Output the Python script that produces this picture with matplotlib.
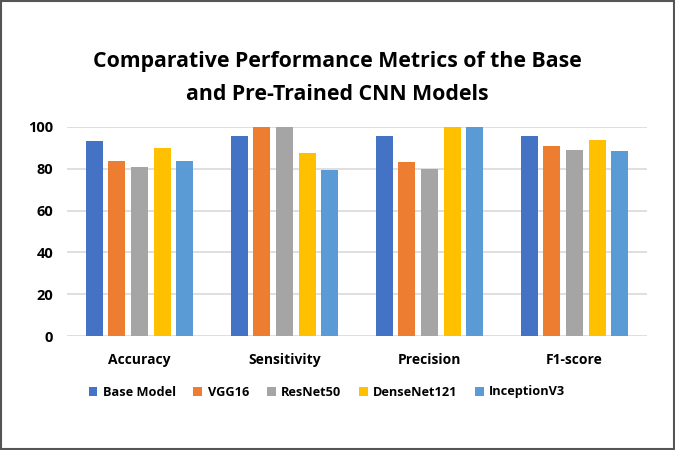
import matplotlib
matplotlib.use("Agg")
import matplotlib.pyplot as plt
import numpy as np
from matplotlib.patches import Rectangle

plt.rcParams['font.family'] = ['Open Sans', 'DejaVu Sans']

categories = ["Accuracy", "Sensitivity", "Precision", "F1-score"]
models = ["Base Model", "VGG16", "ResNet50", "DenseNet121", "InceptionV3"]
base_model = [93.3, 95.5, 95.5, 95.5]
vgg16 = [83.8, 100, 83.1, 90.8]
resnet50 = [80.9, 100, 80.1, 88.9]
densenet121 = [90.1, 87.6, 100, 93.6]
inceptionv3 = [83.8, 79.6, 100, 88.5]
yticks = [0, 20, 40, 60, 80, 100]

series = [base_model, vgg16, resnet50, densenet121, inceptionv3]
colors = ["#4472C4", "#ED7D31", "#A5A5A5", "#FFC000", "#5B9BD5"]

fig = plt.figure(figsize=(6.75, 4.5), dpi=100)
ax = fig.add_axes([67/675, 1-336/450, 580/675, 209/450])

x = np.arange(len(categories))
slot = 22.5/144
bw = 17/144
for i, (vals, c) in enumerate(zip(series, colors)):
    ax.bar(x + (i-2)*slot, vals, width=bw, color=c, label=models[i], zorder=3)

ax.set_xlim(-0.5, 3.5)
ax.set_ylim(0, 100)
ax.set_yticks(yticks)
ax.set_yticklabels([str(t) for t in yticks], fontsize=10.5, fontweight='bold')
ax.set_xticks(x)
ax.set_xticklabels(categories, fontsize=10, fontweight='bold')
ax.tick_params(axis='both', length=0)
ax.tick_params(axis='x', pad=12)
ax.tick_params(axis='y', pad=10)
ax.yaxis.grid(True, color='#D9D9D9', linewidth=1.2, zorder=0)
for s in ax.spines.values():
    s.set_visible(False)

fig.text(0.5, 1-62/450, "Comparative Performance Metrics of the Base", ha='center', va='center',
         fontsize=15.3, fontweight='bold')
fig.text(0.5, 1-94/450, "and Pre-Trained CNN Models", ha='center', va='center',
         fontsize=15.3, fontweight='bold')

leg = fig.legend(loc='center', ncol=5, frameon=False,
                 prop={'weight': 'bold', 'size': 9.2}, handlelength=0.7, handleheight=0.7,
                 handletextpad=0.4, columnspacing=1.4)
leg.set_bbox_to_anchor((327/675, 1-392/450), transform=fig.transFigure)

fig.patches.append(Rectangle((0.002, 0.003), 0.996, 0.994, transform=fig.transFigure,
                             fill=False, edgecolor='#555555', linewidth=1.5))

fig.savefig("out.png", dpi=100)
